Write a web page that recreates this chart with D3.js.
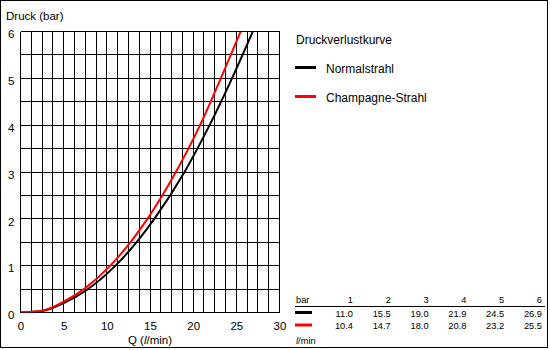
<!DOCTYPE html>
<html>
<head>
<meta charset="utf-8">
<script src="https://cdn.jsdelivr.net/npm/d3@7"></script>
<style>
  html, body { margin: 0; padding: 0; background: #fff; }
  svg { display: block; font-family: "Liberation Sans", Arial, sans-serif; }
</style>
</head>
<body>
<svg id="chart" width="550" height="350"></svg>
<script>
// Pressure-loss table: flow (l/min) needed for each pressure step (bar)
const pressureBar = [1, 2, 3, 4, 5, 6];
const flowNormal = [11.0, 15.5, 19.0, 21.9, 24.5, 26.9];
const flowChampagne = [10.4, 14.7, 18.0, 20.8, 23.2, 25.5];

// Low-flow part of each curve (below 1 bar)
const lowFlow = [0, 2.5, 5, 7.5];
const lowPressureNormal = [0, 0.03, 0.2, 0.46];
const lowPressureChampagne = [0, 0.04, 0.23, 0.52];

const xTicks = [0, 5, 10, 15, 20, 25, 30];
const yTicks = [0, 1, 2, 3, 4, 5, 6];

const series = [
  { name: "Normalstrahl", color: "#000000",
    flow: lowFlow.concat(flowNormal), pressure: lowPressureNormal.concat(pressureBar), table: flowNormal },
  { name: "Champagne-Strahl", color: "#ff0000",
    flow: lowFlow.concat(flowChampagne), pressure: lowPressureChampagne.concat(pressureBar), table: flowChampagne }
];

const svg = d3.select("#chart");

// outer frame
svg.append("rect").attr("x", 0.5).attr("y", 0.5).attr("width", 547).attr("height", 347)
  .attr("fill", "#fff").attr("stroke", "#000").attr("stroke-width", 1);

const x = d3.scaleLinear().domain([0, 30]).range([20.5, 279.5]);
const y = d3.scaleLinear().domain([0, 6]).range([312.5, 31.5]);

// grid: 1.25 l/min columns, 0.5 bar rows
const grid = svg.append("g").attr("stroke", "#000").attr("stroke-width", 1).attr("shape-rendering", "crispEdges");
d3.range(0, 30.001, 1.25).forEach(v => {
  grid.append("line").attr("x1", x(v)).attr("x2", x(v)).attr("y1", y(0)).attr("y2", y(6));
});
d3.range(0, 6.001, 0.5).forEach(v => {
  grid.append("line").attr("x1", x(0)).attr("x2", x(30)).attr("y1", y(v)).attr("y2", y(v));
});

// axes (labels only, lines come from the grid)
const xAxis = d3.axisBottom(x).tickValues(xTicks).tickSize(0).tickPadding(9).tickFormat(d3.format("d"));
const gx = svg.append("g").attr("transform", `translate(0,${y(0)})`).call(xAxis);
gx.select(".domain").remove();
gx.selectAll("text").attr("font-size", 11.5).attr("font-family", null).attr("fill", "#000");

const yAxis = d3.axisLeft(y).tickValues(yTicks).tickSize(0).tickPadding(6).tickFormat(d3.format("d"));
const gy = svg.append("g").attr("transform", `translate(${x(0)},0)`).call(yAxis);
gy.select(".domain").remove();
gy.selectAll("text").attr("font-size", 11.5).attr("font-family", null).attr("fill", "#000").attr("dy", "0.55em");

// axis titles
svg.append("text").attr("x", 6).attr("y", 20).attr("font-size", 11.5).text("Druck (bar)");
const xt = svg.append("text").attr("x", 150).attr("y", 344).attr("font-size", 11.5).attr("text-anchor", "middle");
xt.append("tspan").text("Q  (");
xt.append("tspan").attr("font-style", "italic").text("l");
xt.append("tspan").text("/min)");

// curves
svg.append("clipPath").attr("id", "plotClip").append("rect")
  .attr("x", x(0)).attr("y", y(6)).attr("width", x(30) - x(0)).attr("height", y(0) - y(6));

const line = d3.line().x(d => x(d[0])).y(d => y(d[1])).curve(d3.curveMonotoneX);
const curves = svg.append("g").attr("clip-path", "url(#plotClip)");
series.forEach(s => {
  curves.append("path")
    .datum(s.flow.map((f, i) => [f, s.pressure[i]]))
    .attr("d", line).attr("fill", "none").attr("stroke", s.color).attr("stroke-width", 2);
});

// legend
const legend = svg.append("g");
legend.append("text").attr("x", 296).attr("y", 44).attr("font-size", 12).text("Druckverlustkurve");
series.forEach((s, i) => {
  const cy = 67.5 + i * 29;
  legend.append("line").attr("x1", 295).attr("x2", 316).attr("y1", cy).attr("y2", cy)
    .attr("stroke", s.color).attr("stroke-width", 3);
  legend.append("text").attr("x", 326).attr("y", cy + 5.5).attr("font-size", 12).text(s.name);
});

// value table
const col = d3.scalePoint().domain(pressureBar).range([353, 542]);
const table = svg.append("g").attr("font-size", 9.3);
table.append("text").attr("x", 296).attr("y", 302.5).text("bar");
table.selectAll("text.head").data(pressureBar).join("text").attr("class", "head")
  .attr("x", d => col(d)).attr("y", 302.5).attr("text-anchor", "end").text(d => d);
table.append("line").attr("x1", 295).attr("x2", 545).attr("y1", 306.5).attr("y2", 306.5)
  .attr("stroke", "#000").attr("stroke-width", 1);
series.forEach((s, i) => {
  const base = 316.5 + i * 12.5;
  table.append("line").attr("x1", 295).attr("x2", 312).attr("y1", base - 4).attr("y2", base - 4)
    .attr("stroke", s.color).attr("stroke-width", 3);
  table.selectAll("text.r" + i).data(s.table).join("text").attr("class", "r" + i)
    .attr("x", (d, j) => col(pressureBar[j])).attr("y", base).attr("text-anchor", "end")
    .text(d => d.toFixed(1));
});
const unit = table.append("text").attr("x", 296).attr("y", 344.3);
unit.append("tspan").attr("font-style", "italic").text("l");
unit.append("tspan").text("/min");
</script>
</body>
</html>
